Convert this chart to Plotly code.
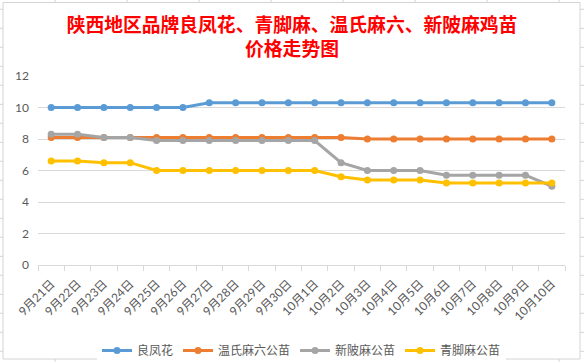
import plotly.graph_objects as go

# ---- data ----
dates = ["9月21日", "9月22日", "9月23日", "9月24日", "9月25日", "9月26日", "9月27日",
         "9月28日", "9月29日", "9月30日", "10月1日", "10月2日", "10月3日", "10月4日",
         "10月5日", "10月6日", "10月7日", "10月8日", "10月9日", "10月10日"]
liangfenghua = [10, 10, 10, 10, 10, 10, 10.3, 10.3, 10.3, 10.3, 10.3, 10.3, 10.3, 10.3,
                10.3, 10.3, 10.3, 10.3, 10.3, 10.3]
wenshi = [8.1, 8.1, 8.1, 8.1, 8.1, 8.1, 8.1, 8.1, 8.1, 8.1, 8.1, 8.1, 8.0, 8.0,
          8.0, 8.0, 8.0, 8.0, 8.0, 8.0]
xinbei = [8.3, 8.3, 8.1, 8.1, 7.9, 7.9, 7.9, 7.9, 7.9, 7.9, 7.9, 6.5, 6.0, 6.0,
          6.0, 5.7, 5.7, 5.7, 5.7, 5.0]
qingjiao = [6.6, 6.6, 6.5, 6.5, 6.0, 6.0, 6.0, 6.0, 6.0, 6.0, 6.0, 5.6, 5.4, 5.4,
            5.4, 5.2, 5.2, 5.2, 5.2, 5.2]
series_names = ["良凤花", "温氏麻六公苗", "新陂麻公苗", "青脚麻公苗"]
series_values = [liangfenghua, wenshi, xinbei, qingjiao]
series_colors = ["#5B9BD5", "#ED7D31", "#A5A5A5", "#FFC000"]
y_ticks = [0, 2, 4, 6, 8, 10, 12]

title_text = "陕西地区品牌良凤花、青脚麻、温氏麻六、新陂麻鸡苗<br>价格走势图"

# ---- layout constants ----
W, H = 584, 362
L, R, T, B = 38, 19, 76, 97
PW, PH = W - L - R, H - T - B
FONT = "Lato, 'Noto Sans CJK SC', sans-serif"
GRID = "#D9D9D9"


def px_x(x):
    return (x - L) / PW


def px_y(y):
    return (H - B - y) / PH


fig = go.Figure()
for name, vals, col in zip(series_names, series_values, series_colors):
    fig.add_trace(go.Scatter(
        x=dates, y=vals, name=name, mode="lines+markers",
        line=dict(color=col, width=3),
        marker=dict(color=col, size=7, symbol="circle"),
    ))

shapes = [dict(type="rect", xref="paper", yref="paper",
               x0=px_x(3), x1=px_x(580), y0=px_y(359), y1=px_y(2.5),
               line=dict(color="#D4D4D4", width=1), layer="below")]
# spreadsheet cell marks around the chart frame
for k in range(19):
    yy = 9.3 + 19 * k
    shapes.append(dict(type="line", xref="paper", yref="paper",
                       x0=px_x(0), x1=px_x(3), y0=px_y(yy), y1=px_y(yy),
                       line=dict(color="#D4D4D4", width=1)))
    shapes.append(dict(type="line", xref="paper", yref="paper",
                       x0=px_x(580), x1=px_x(584), y0=px_y(yy), y1=px_y(yy),
                       line=dict(color="#D4D4D4", width=1)))
for k in range(8):
    xx = 55 + 72 * k
    shapes.append(dict(type="line", xref="paper", yref="paper",
                       x0=px_x(xx), x1=px_x(xx), y0=px_y(0), y1=px_y(2.5),
                       line=dict(color="#D4D4D4", width=1)))
    shapes.append(dict(type="line", xref="paper", yref="paper",
                       x0=px_x(xx), x1=px_x(xx), y0=px_y(359), y1=px_y(362),
                       line=dict(color="#D4D4D4", width=1)))

fig.update_layout(
    width=W, height=H,
    margin=dict(l=L, r=R, t=T, b=B, autoexpand=False),
    paper_bgcolor="white", plot_bgcolor="white",
    title=dict(text=title_text, x=0.5, xanchor="center",
               y=1 - 32 / H, yanchor="middle", yref="container",
               font=dict(family="'Noto Sans CJK SC'", size=18.8, color="#FF0000",
                         weight="bold")),
    xaxis=dict(type="category", categoryorder="array", categoryarray=dates,
               range=[-0.5, len(dates) - 0.5], automargin=False,
               showgrid=False, showline=True, linecolor=GRID, linewidth=1,
               ticks="outside", tickson="boundaries", ticklen=5, tickcolor=GRID,
               tickangle=-45, tickfont=dict(family=FONT, size=12, color="#595959"),
               ticklabelstandoff=6, zeroline=False, fixedrange=True),
    yaxis=dict(range=[0, 12], tickvals=y_ticks, showgrid=True, gridcolor=GRID,
               gridwidth=1, showline=False, zeroline=False, ticks="",
               automargin=False,
               tickfont=dict(family=FONT, size=12, color="#595959"),
               ticklabelstandoff=8, fixedrange=True),
    legend=dict(orientation="h", x=0.5, xanchor="center",
                y=px_y(350.5), yanchor="middle",
                font=dict(family=FONT, size=12, color="#595959"),
                itemwidth=30, tracegroupgap=0),
    shapes=shapes,
    showlegend=True,
)

fig.write_html("out.html", config={"displayModeBar": False},
               post_script="document.body.style.margin='0';document.body.style.overflow='hidden';")
